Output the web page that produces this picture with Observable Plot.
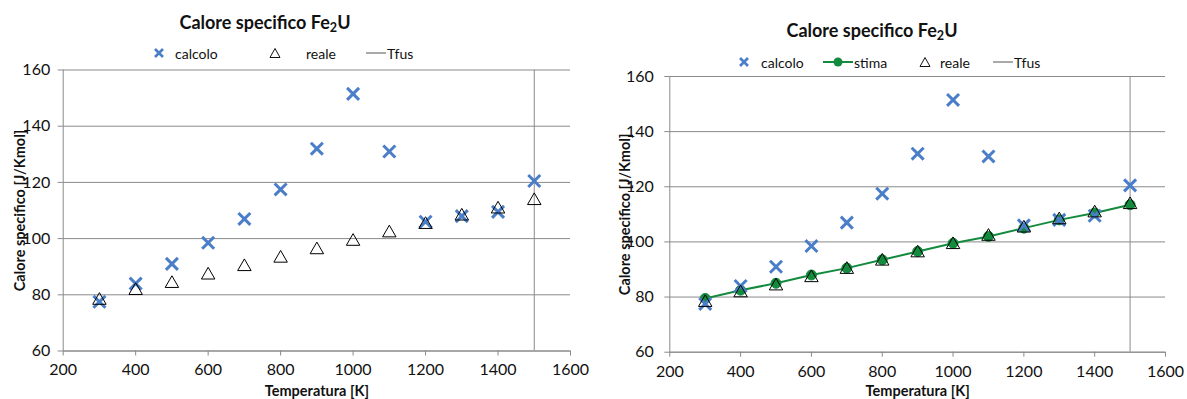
<!DOCTYPE html>
<html>
<head>
<meta charset="utf-8">
<script src="https://cdn.jsdelivr.net/npm/d3@7"></script>
<script src="https://cdn.jsdelivr.net/npm/@observablehq/plot@0.6"></script>
<style>
  html, body { margin: 0; padding: 0; background: #fff; }
  body { width: 1187px; height: 399px; position: relative; overflow: hidden; font-family: Lato, "Open Sans", sans-serif; color: #000; }
  .panel { position: absolute; top: 0; height: 399px; }
  .title { position: absolute; transform: translate(-50%, -50%); font-size: 18px; font-weight: bold; white-space: nowrap; color: #111; }
  .title sub { font-size: 0.7em; vertical-align: -0.25em; }
  .leg { position: absolute; font-size: 14px; white-space: nowrap; transform: translateY(-50%); color: #111; }
  .icon { position: absolute; transform: translate(-50%, -50%); overflow: visible; }
  .chart { position: absolute; top: 60px; }
</style>
</head>
<body>
<script>
// ---- data ----
const temperature = [300, 400, 500, 600, 700, 800, 900, 1000, 1100, 1200, 1300, 1400, 1500];
const calcolo = [77.5, 84, 91, 98.5, 107, 117.5, 132, 151.5, 131, 106, 108, 109.5, 120.5];
const reale   = [78, 81.5, 84, 87, 90, 93, 96, 99, 102, 105, 108, 110.5, 113.5];
const stima   = [79.5, 82.5, 85, 88, 90.5, 93.5, 96.5, 99.5, 102, 105, 108, 110.5, 113.5];
const tfus = [1500];
const xTicks = [200, 400, 600, 800, 1000, 1200, 1400, 1600];
const yTicks = [60, 80, 100, 120, 140, 160];
const titleText = "Calore specifico Fe<sub>2</sub>U";
const xLabel = "Temperatura [K]";
const yLabel = "Calore specifico [J/Kmol]";

const BLUE = "#4a7ec9";
const GREEN = "#138a3e";
const GRID = "#8a8a8a";

const rows = temperature.map((t, i) => ({t, calcolo: calcolo[i], reale: reale[i], stima: stima[i]}));

function makeChart({width, mL, mR, mT, mB, yPad, yDx, xDy, withStima}) {
  const marks = [
    Plot.gridY(yTicks, {stroke: GRID, strokeOpacity: 1, strokeWidth: 1}),
    Plot.ruleX(tfus, {stroke: GRID, strokeWidth: 1}),
    Plot.ruleX([200], {stroke: GRID}),
    Plot.ruleY([60], {stroke: GRID}),
    Plot.axisX(xTicks, {tickSize: 5, tickPadding: 8, stroke: GRID, color: "#111", fontSize: 16, tickFormat: d3.format("d"), label: null}),
    Plot.axisY(yTicks, {tickSize: 5, tickPadding: yPad, stroke: GRID, color: "#111", fontSize: 16, tickFormat: d3.format("d"), label: null}),
    Plot.text([xLabel], {frameAnchor: "bottom", dy: xDy, textAnchor: "middle", lineAnchor: "middle", fontWeight: "bold", fontSize: 14.5, fill: "#111"}),
    Plot.text([yLabel], {frameAnchor: "left", rotate: -90, dx: yDx, textAnchor: "middle", lineAnchor: "middle", fontWeight: "bold", fontSize: 14.5, fill: "#111"})
  ];
  if (withStima) {
    marks.push(Plot.line(rows, {x: "t", y: "stima", stroke: GREEN, strokeWidth: 2}));
    marks.push(Plot.dot(rows, {x: "t", y: "stima", r: 5, fill: GREEN, stroke: GREEN, strokeWidth: 1}));
  }
  marks.push(Plot.dot(rows, {x: "t", y: "calcolo", symbol: "times", r: 5.5, stroke: BLUE, strokeWidth: 3}));
  marks.push(Plot.dot(rows, {x: "t", y: "reale", symbol: "triangle", r: 5, stroke: "#000", fill: "none", strokeWidth: 1}));
  return Plot.plot({
    width, height: 339,
    marginLeft: mL, marginRight: mR, marginTop: mT, marginBottom: mB,
    x: {domain: [200, 1600]},
    y: {domain: [60, 160]},
    style: {fontFamily: "Lato, 'Open Sans', sans-serif", fontSize: "16px", background: "transparent", overflow: "visible"},
    marks
  });
}

function icon(kind) {
  const ns = "http://www.w3.org/2000/svg";
  const svg = document.createElementNS(ns, "svg");
  svg.setAttribute("class", "icon");
  const g = d3.select(svg);
  if (kind === "x") {
    svg.setAttribute("width", 12); svg.setAttribute("height", 12);
    g.append("path").attr("d", "M2,2L10,10M10,2L2,10").attr("stroke", BLUE).attr("stroke-width", 2.6);
  } else if (kind === "tri") {
    svg.setAttribute("width", 12); svg.setAttribute("height", 12);
    g.append("path").attr("d", "M6,1.5L11,10.5L1,10.5Z").attr("stroke", "#111").attr("fill", "none").attr("stroke-width", 1);
  } else if (kind === "line") {
    svg.setAttribute("width", 20); svg.setAttribute("height", 4);
    g.append("line").attr("x1", 0).attr("x2", 20).attr("y1", 2).attr("y2", 2).attr("stroke", "#555").attr("stroke-width", 1);
  } else if (kind === "stima") {
    svg.setAttribute("width", 30); svg.setAttribute("height", 12);
    g.append("line").attr("x1", 0).attr("x2", 30).attr("y1", 6).attr("y2", 6).attr("stroke", GREEN).attr("stroke-width", 2);
    g.append("circle").attr("cx", 15).attr("cy", 6).attr("r", 4.5).attr("fill", GREEN);
  }
  return svg;
}

function addPanel(left, cfg) {
  const panel = document.createElement("div");
  panel.className = "panel";
  panel.style.left = left + "px";
  panel.style.width = cfg.width + "px";
  const title = document.createElement("div");
  title.className = "title";
  title.innerHTML = titleText;
  title.style.left = (cfg.titleX - left) + "px";
  title.style.top = cfg.titleY + "px";
  panel.appendChild(title);
  for (const item of cfg.legend) {
    const ic = icon(item.kind);
    ic.style.left = (item.ix - left) + "px";
    ic.style.top = cfg.legY + "px";
    panel.appendChild(ic);
    const t = document.createElement("div");
    t.className = "leg";
    t.textContent = item.label;
    t.style.left = (item.tx - left) + "px";
    t.style.top = cfg.legY + "px";
    panel.appendChild(t);
  }
  const chart = makeChart(cfg);
  chart.classList.add("chart");
  chart.style.left = "0px";
  panel.appendChild(chart);
  document.body.appendChild(panel);
}

addPanel(0, {
  width: 595, mL: 62.7, mR: 25, mT: 9.5, mB: 48.5, yPad: 8, yDx: -43, xDy: 40.5, withStima: false,
  titleX: 265, titleY: 23, legY: 53,
  legend: [
    {kind: "x", ix: 159, tx: 175, label: "calcolo"},
    {kind: "tri", ix: 275, tx: 306, label: "reale"},
    {kind: "line", ix: 376, tx: 387, label: "Tfus"}
  ]
});
addPanel(600, {
  width: 587, mL: 69.3, mR: 22, mT: 16, mB: 47.3, yPad: 11, yDx: -44, xDy: 39.5, withStima: true,
  titleX: 872, titleY: 31, legY: 62,
  legend: [
    {kind: "x", ix: 744, tx: 761, label: "calcolo"},
    {kind: "stima", ix: 838, tx: 854, label: "stima"},
    {kind: "tri", ix: 925, tx: 940, label: "reale"},
    {kind: "line", ix: 1003, tx: 1014, label: "Tfus"}
  ]
});
</script>
</body>
</html>
